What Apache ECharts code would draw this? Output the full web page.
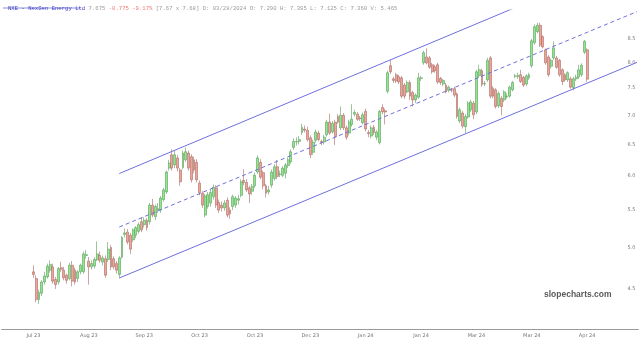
<!DOCTYPE html>
<html><head><meta charset="utf-8">
<script src="https://cdn.jsdelivr.net/npm/echarts@6/dist/echarts.min.js"></script>
<style>html,body{margin:0;padding:0;background:#fff}#c{width:640px;height:343px}</style>
</head><body><div id="c"></div>
<script>
// ---- data ----
const xTickLabels = ['Jul 23','Aug 23','Sep 23','Oct 23','Oct 23','Dec 23','Jan 24','Jan 24','Mar 24','Mar 24','Apr 24'];
const yTickValues = [4.5,5.0,5.5,6.0,6.5,7.0,7.5,8.0,8.5];
const opens = [
4.70,4.62,4.38,4.45,4.58,4.64,4.72,4.76,4.61,4.58,
4.75,4.72,4.66,4.62,4.78,4.72,4.62,4.70,4.70,4.90,
4.83,4.76,4.77,4.85,4.90,4.82,4.86,4.85,5.00,4.86,
4.80,4.67,4.88,5.17,5.20,5.16,5.10,5.16,5.21,5.34,
5.30,5.36,5.34,5.57,5.41,5.50,5.50,5.65,5.76,6.12,
6.33,6.17,6.28,6.09,6.13,6.25,6.36,6.30,6.25,6.21,
5.89,5.74,5.43,5.55,5.60,5.69,5.82,5.61,5.57,5.53,
5.64,5.50,5.55,5.57,5.64,5.71,5.93,5.90,5.82,5.77,
5.85,6.06,6.21,6.05,5.85,5.76,5.86,5.96,6.14,6.02,
6.01,6.04,6.16,6.22,6.45,6.54,6.55,6.70,6.76,6.74,
6.61,6.37,6.57,6.69,6.55,6.54,6.66,6.88,6.71,6.88,
6.98,6.78,7.00,6.78,6.69,6.84,7.02,7.02,6.95,6.87,
7.07,6.70,6.64,6.79,6.62,6.53,7.14,7.08,7.44,7.94,
7.68,7.76,7.72,7.70,7.56,7.43,7.61,7.42,7.28,7.33,
7.69,8.00,8.12,8.10,7.96,7.92,7.96,7.69,7.58,7.56,
7.46,7.47,7.49,7.39,6.90,7.04,6.80,6.97,7.10,7.22,
7.06,7.74,7.84,7.58,7.66,8.10,7.50,7.47,7.17,7.31,
7.28,7.34,7.35,7.47,7.73,7.72,7.76,7.71,7.58,7.70,
7.94,8.42,8.66,8.80,8.55,8.27,8.12,7.93,8.10,8.10,
8.05,7.86,7.76,7.66,7.68,7.51,7.68,7.72,7.76,8.22,
8.27];
const closes = [
4.67,4.38,4.46,4.58,4.65,4.77,4.79,4.59,4.55,4.74,
4.73,4.63,4.60,4.78,4.59,4.58,4.70,4.78,4.92,4.91,
4.76,4.80,4.85,4.92,4.84,4.87,4.66,4.98,4.76,4.76,
4.72,4.87,5.13,5.19,5.07,4.98,5.23,5.26,5.30,5.23,
5.36,5.26,5.57,5.43,5.55,5.52,5.67,5.79,6.06,6.20,
6.12,6.33,6.12,5.91,6.36,6.38,6.12,5.94,6.09,5.94,
5.75,5.57,5.70,5.72,5.75,5.83,5.57,5.50,5.53,5.60,
5.43,5.45,5.69,5.67,5.66,5.91,5.90,5.79,5.73,5.84,
6.01,6.28,5.98,5.85,5.74,5.79,6.06,6.14,5.99,6.03,
6.12,6.17,6.25,6.38,6.55,6.55,6.58,6.79,6.74,6.58,
6.33,6.54,6.71,6.58,6.53,6.62,6.88,6.69,6.86,6.63,
6.88,7.00,6.78,6.62,6.88,6.93,7.05,6.93,6.94,7.01,
6.76,6.68,6.78,6.70,6.71,7.07,7.06,7.06,7.80,7.82,
7.65,7.64,7.62,7.35,7.35,7.61,7.35,7.28,7.37,7.70,
7.70,8.21,8.00,7.91,7.82,7.84,7.62,7.61,7.65,7.43,
7.52,7.46,7.37,6.98,7.10,6.81,6.98,7.22,7.24,7.01,
7.82,7.86,7.57,7.59,8.05,7.35,7.35,7.16,7.40,7.16,
7.43,7.35,7.52,7.61,7.74,7.75,7.63,7.56,7.74,7.76,
8.46,8.77,8.80,8.37,8.33,8.00,7.76,8.05,8.31,7.91,
7.76,7.63,7.66,7.80,7.52,7.68,7.71,7.86,7.95,8.45,
7.675];
const lows = [
4.63,4.35,4.33,4.42,4.55,4.62,4.69,4.56,4.50,4.55,
4.70,4.60,4.56,4.60,4.53,4.55,4.58,4.67,4.68,4.86,
4.55,4.73,4.74,4.83,4.81,4.78,4.63,4.82,4.72,4.73,
4.68,4.63,4.86,5.13,5.04,4.92,5.07,5.12,5.18,5.20,
5.26,5.22,5.30,5.40,5.36,5.46,5.46,5.62,5.73,6.08,
6.08,6.12,6.07,5.85,6.10,6.22,6.08,5.90,6.04,5.90,
5.71,5.53,5.40,5.52,5.55,5.65,5.53,5.46,5.48,5.49,
5.40,5.38,5.50,5.53,5.58,5.68,5.86,5.76,5.60,5.72,
5.82,6.03,5.95,5.80,5.68,5.72,5.82,5.93,5.95,5.98,
5.98,5.96,6.12,6.19,6.41,6.48,6.50,6.66,6.70,6.55,
6.28,6.33,6.53,6.55,6.49,6.50,6.63,6.66,6.68,6.49,
6.85,6.74,6.74,6.58,6.65,6.80,6.98,6.90,6.90,6.84,
6.72,6.62,6.60,6.66,6.57,6.50,7.02,6.84,7.40,7.78,
7.60,7.60,7.58,7.31,7.30,7.40,7.28,7.16,7.22,7.30,
7.64,7.96,7.97,7.88,7.78,7.80,7.58,7.56,7.54,7.40,
7.42,7.42,7.33,6.94,6.86,6.77,6.69,6.94,7.06,6.93,
7.02,7.70,7.53,7.54,7.62,7.31,7.31,7.12,7.13,7.00,
7.24,7.30,7.32,7.44,7.69,7.68,7.60,7.52,7.54,7.66,
7.90,8.38,8.62,8.33,8.30,7.96,7.72,7.88,8.06,7.88,
7.72,7.56,7.62,7.62,7.49,7.46,7.64,7.68,7.72,8.18,
7.62];
const highs = [
4.78,4.66,4.49,4.60,4.70,4.80,4.84,4.80,4.64,4.76,
4.82,4.76,4.68,4.81,4.83,4.75,4.72,4.80,4.95,4.97,
4.88,4.84,4.88,5.08,4.95,4.90,4.90,5.07,5.03,4.89,
4.83,4.89,5.15,5.25,5.24,5.19,5.25,5.28,5.33,5.40,
5.40,5.39,5.60,5.66,5.58,5.60,5.70,5.82,6.08,6.25,
6.42,6.40,6.33,6.12,6.40,6.45,6.40,6.34,6.30,6.26,
5.93,5.77,5.73,5.76,5.80,5.87,5.86,5.65,5.62,5.64,
5.68,5.54,5.72,5.70,5.72,5.95,6.10,5.95,5.85,5.88,
6.05,6.32,6.26,6.08,5.88,5.85,6.10,6.18,6.25,6.08,
6.15,6.20,6.28,6.42,6.60,6.62,6.64,6.85,6.82,6.80,
6.65,6.58,6.75,6.73,6.58,6.66,6.92,7.03,6.90,6.92,
7.02,7.16,7.04,6.82,6.92,7.20,7.10,7.06,6.99,7.05,
7.12,6.74,6.82,6.83,6.74,7.10,7.20,7.12,7.84,8.06,
7.72,7.80,7.76,7.74,7.60,7.65,7.65,7.45,7.40,7.80,
7.74,8.25,8.30,8.14,8.00,7.96,8.00,7.72,7.68,7.60,
7.55,7.50,7.53,7.42,7.14,7.08,7.02,7.26,7.28,7.26,
7.86,7.96,7.88,7.64,8.10,8.14,7.54,7.50,7.44,7.35,
7.46,7.40,7.55,7.64,7.78,7.80,7.86,7.74,7.77,7.80,
8.50,8.82,8.86,8.86,8.58,8.30,8.16,8.09,8.45,8.14,
8.08,7.89,7.79,7.83,7.72,7.72,7.76,7.96,7.99,8.48,
8.30];
// trend channel (start/end bar index, prices at those bars)
const channelIdx = [31, 218];
const channelUpper = [6.036, 10.486];
const channelMid = [5.268, 9.114];
const channelLower = [4.627, 8.009];

// ---- layout helpers ----
const PAD_LEFT = 11, TOTAL_SLOTS = 230, LABEL_EVERY = 20;
const cats = [];
for (let k = 0; k < TOTAL_SLOTS; k++) {
  const i = k - PAD_LEFT;
  cats.push(i >= 0 && i % LABEL_EVERY === 0 && i / LABEL_EVERY < xTickLabels.length ? xTickLabels[i / LABEL_EVERY] : '');
}
const candles = cats.map((c, k) => {
  const i = k - PAD_LEFT;
  return (i >= 0 && i < opens.length) ? [opens[i], closes[i], lows[i], highs[i]] : '-';
});
const lineData = arr => [[channelIdx[0] + PAD_LEFT, arr[0]], [channelIdx[1] + PAD_LEFT, arr[1]]];
const chColor = '#6f6fe0';

const chart = echarts.init(document.getElementById('c'), null, {renderer: 'canvas'});
chart.setOption({
  animation: false,
  backgroundColor: '#fff',
  title: {
    left: 3, top: 1,
    text: '{n|NXE - NexGen Energy Ltd} {g|7.675} {r|-0.775 -9.17%} {g|[7.67 x 7.68] D: 03/28/2024 O: 7.290 H: 7.395 L: 7.125 C: 7.360 V: 5.465}',
    textStyle: {
      fontSize: 5.6, fontFamily: '"Liberation Mono", "DejaVu Sans Mono", monospace', fontWeight: 'normal',
      rich: {
        n: {color: '#3d3dc8', fontSize: 5.6, fontFamily: '"Liberation Mono", monospace'},
        g: {color: '#9a9a9a', fontSize: 5.6, fontFamily: '"Liberation Mono", monospace'},
        r: {color: '#ee7b7b', fontSize: 5.6, fontFamily: '"Liberation Mono", monospace'}
      }
    }
  },
  graphic: [
    {type: 'line', shape: {x1: 3, y1: 8, x2: 80.5, y2: 8}, style: {stroke: '#3d3dc8', lineWidth: 0.6}, silent: true},
    {type: 'text', left: 544, top: 290, style: {text: 'slopecharts.com', font: 'bold 8.5px "Liberation Sans", Arial, sans-serif', fill: '#5a5a5a'}, silent: true}
  ],
  grid: {left: 0, right: 0, top: 10, bottom: 14, containLabel: false},
  xAxis: {
    type: 'category', data: cats, boundaryGap: true,
    axisLine: {lineStyle: {color: '#9a9a9a', width: 1}},
    axisTick: {show: false},
    axisLabel: {interval: 0, fontSize: 5, color: '#777', margin: 4, fontFamily: '"DejaVu Sans", sans-serif'},
    splitLine: {show: false}
  },
  yAxis: {
    type: 'log', logBase: 10, min: 4.064, max: 9.151, position: 'right',
    axisLine: {show: false}, axisTick: {show: false}, splitLine: {show: false},
    axisLabel: {inside: true, margin: 3, fontSize: 5, color: '#777', customValues: yTickValues,
      formatter: v => Number(v).toFixed(1), fontFamily: '"DejaVu Sans", sans-serif'}
  },
  series: [
    {
      type: 'candlestick', data: candles, barWidth: 2.4,
      itemStyle: {color: '#8ee88e', color0: '#efa59a', borderColor: '#5c9c5c', borderColor0: '#a86a62', borderWidth: 0.6}
    },
    {type: 'line', data: lineData(channelUpper), symbol: 'none', silent: true, clip: true,
      lineStyle: {color: chColor, width: 1}},
    {type: 'line', data: lineData(channelMid), symbol: 'none', silent: true, clip: true,
      lineStyle: {color: chColor, width: 1, type: [4, 3]}},
    {type: 'line', data: lineData(channelLower), symbol: 'none', silent: true, clip: true,
      lineStyle: {color: chColor, width: 1}}
  ]
});
</script></body></html>
